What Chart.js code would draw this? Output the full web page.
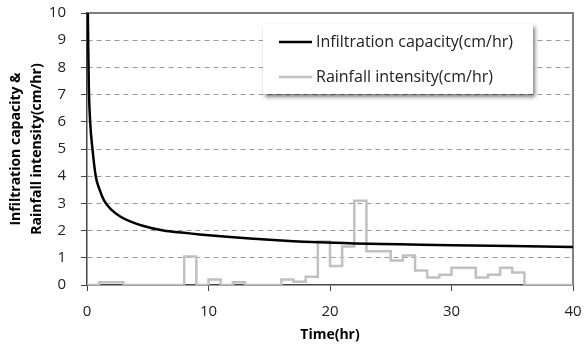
<!DOCTYPE html>
<html>
<head>
<meta charset="utf-8">
<script src="https://cdn.jsdelivr.net/npm/chart.js@4.4.0/dist/chart.umd.min.js"></script>
<style>
  html, body { margin: 0; padding: 0; background: #fff; }
  canvas { display: block; }
</style>
</head>
<body>
<canvas id="myChart" width="584" height="346"></canvas>
<script>
// infiltration capacity curve
const infilTime = [0.07, 0.1, 0.15, 0.26, 0.45, 0.72, 1, 1.41, 2, 2.73, 3.5, 4.65, 6.3, 8, 9.26, 11, 13.4, 16, 19.1, 22, 25.7, 30, 35, 40];
const infilRate = [10, 8.8, 7.3, 6, 5, 4, 3.55, 3.1, 2.77, 2.52, 2.35, 2.17, 2.0, 1.92, 1.86, 1.79, 1.71, 1.64, 1.57, 1.53, 1.5, 1.46, 1.43, 1.4];

// rainfall intensity, each value holds until the next time
const rainTime = [0, 1, 3, 8, 9, 10, 11, 12, 13, 16, 17, 18, 19, 20, 21, 22, 23, 25, 26, 27, 28, 29, 30, 32, 33, 34, 35, 36, 40];
const rainRate = [0, 0.1, 0, 1.05, 0, 0.2, 0, 0.1, 0, 0.2, 0.12, 0.3, 1.6, 0.7, 1.42, 3.1, 1.24, 0.9, 1.08, 0.53, 0.28, 0.38, 0.63, 0.28, 0.38, 0.63, 0.46, 0, 0];

const seriesNames = ['Infiltration capacity(cm/hr)', 'Rainfall intensity(cm/hr)'];
const seriesColors = ['#000000', '#c0c0c0'];

const FONT = "'Open Sans', 'DejaVu Sans', sans-serif";

const toPoints = (xs, ys) => xs.map((x, i) => ({x, y: ys[i]}));

const data = {
  datasets: [{
    label: seriesNames[0],
    data: toPoints(infilTime, infilRate),
    borderColor: seriesColors[0],
    borderWidth: 2.5,
    pointRadius: 0,
    cubicInterpolationMode: 'monotone',
    order: 0
  }, {
    label: seriesNames[1],
    data: toPoints(rainTime, rainRate),
    borderColor: seriesColors[1],
    borderWidth: 2.5,
    pointRadius: 0,
    stepped: true,
    order: 1
  }]
};

// top and right edges of the plot box
const frame = {
  id: 'frame',
  beforeDatasetsDraw(chart) {
    const {ctx, chartArea: {top, left, right, bottom}} = chart;
    ctx.save();
    ctx.strokeStyle = '#555';
    ctx.lineWidth = 1.5;
    ctx.beginPath();
    ctx.moveTo(left, top);
    ctx.lineTo(right, top);
    ctx.lineTo(right, bottom);
    ctx.stroke();
    ctx.restore();
  }
};

// legend box inside the plot, with drop shadow
const boxLegend = {
  id: 'boxLegend',
  afterDatasetsDraw(chart) {
    const {ctx} = chart;
    ctx.save();
    ctx.shadowColor = 'rgba(0,0,0,0.5)';
    ctx.shadowOffsetX = 2;
    ctx.shadowOffsetY = 3;
    ctx.shadowBlur = 4;
    ctx.fillStyle = '#fff';
    ctx.fillRect(263, 24, 270, 70);
    ctx.restore();

    ctx.save();
    ctx.font = '16px ' + FONT;
    ctx.textBaseline = 'middle';
    chart.data.datasets.forEach((ds, i) => {
      const y = 42 + i * 35;
      ctx.strokeStyle = ds.borderColor;
      ctx.lineWidth = 2.5;
      ctx.beginPath();
      ctx.moveTo(279, y);
      ctx.lineTo(312, y);
      ctx.stroke();
      ctx.fillStyle = '#222';
      ctx.fillText(ds.label, 316, y);
    });
    ctx.restore();
  }
};

const config = {
  type: 'line',
  data,
  options: {
    responsive: false,
    animation: false,
    layout: { padding: { left: 0, right: 11, top: 13, bottom: 0 } },
    plugins: {
      legend: { display: false },
      tooltip: { enabled: false }
    },
    scales: {
      x: {
        type: 'linear',
        min: 0,
        max: 40,
        afterFit: (s) => { s.height = 61; s.paddingLeft = 0; s.paddingRight = 0; },
        ticks: { stepSize: 10, color: '#222', font: { family: FONT, size: 15 }, padding: 12, maxRotation: 0 },
        grid: { drawOnChartArea: false, tickLength: 6, tickColor: '#444' },
        border: { color: '#444', width: 1.5 },
        title: {
          display: true,
          text: 'Time(hr)',
          color: '#000',
          font: { family: FONT, size: 14, weight: 'bold' },
          padding: { top: 0, bottom: 3 }
        }
      },
      y: {
        min: 0,
        max: 10,
        afterFit: (s) => { s.width = 87; s.paddingTop = 0; s.paddingBottom = 0; },
        ticks: { stepSize: 1, color: '#222', font: { family: FONT, size: 15 }, padding: 15 },
        grid: {
          color: (c) => (c.tick && (c.tick.value === 0 || c.tick.value === 10)) ? 'rgba(0,0,0,0)' : '#9a9a9a',
          lineWidth: 1,
          tickLength: 6,
          tickColor: '#444',
          tickBorderDash: []
        },
        border: { color: '#444', width: 1.5, dash: [5, 4] },
        title: {
          display: true,
          text: ['Infiltration capacity &', 'Rainfall intensity(cm/hr)'],
          color: '#000',
          font: { family: FONT, size: 14, weight: 'bold', lineHeight: 1.5 },
          padding: { top: 5.5, bottom: 0 }
        }
      }
    }
  },
  plugins: [frame, boxLegend]
};

const myChart = new Chart(document.getElementById('myChart'), config);
</script>
</body>
</html>
